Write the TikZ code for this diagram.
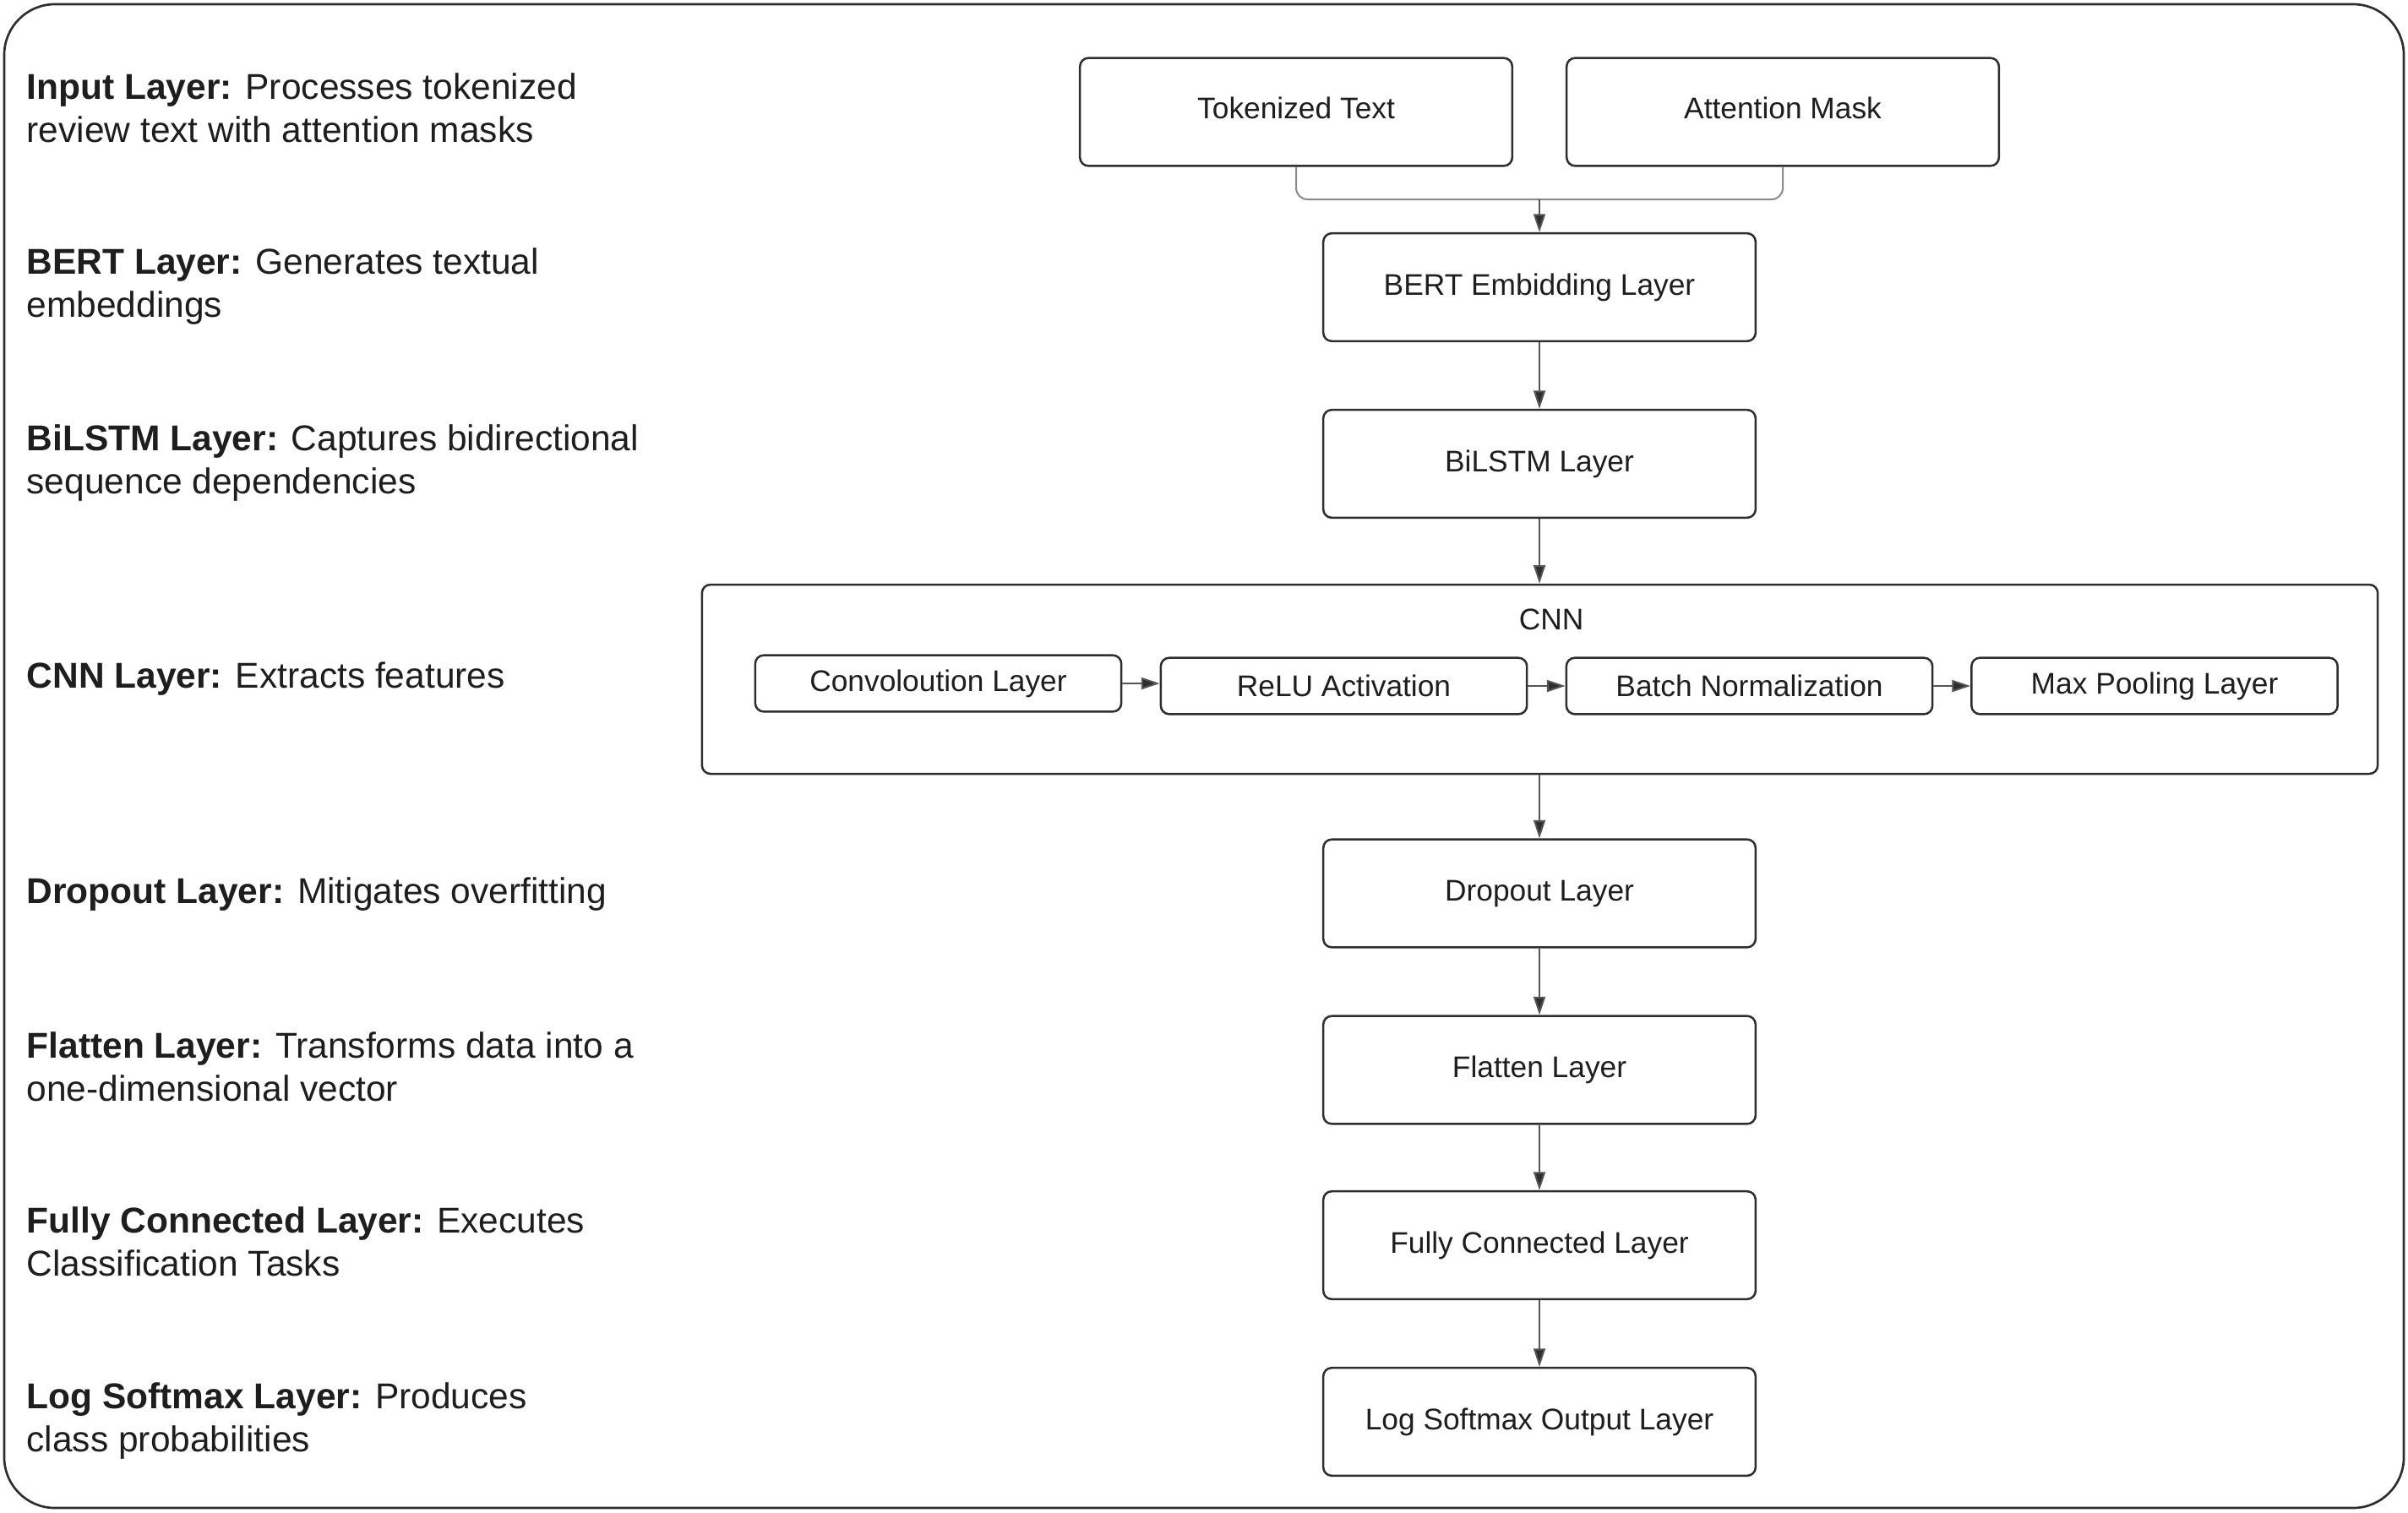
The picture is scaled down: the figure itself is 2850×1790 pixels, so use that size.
\documentclass[tikz,border=0pt]{standalone}
\usepackage{fontspec}
\setmainfont{Liberation Sans}
\usetikzlibrary{arrows.meta,positioning}
\definecolor{txt}{HTML}{1E1E1E}
\definecolor{ln}{HTML}{2E2E2E}
\definecolor{cn}{HTML}{555555}
\definecolor{cnl}{HTML}{8A8A8A}
\begin{document}
\begin{tikzpicture}[x=0.3pt,y=-0.3pt,
 box/.style={draw=ln, line width=0.75pt, rounded corners=3pt, minimum width=153.5pt, minimum height=38.3pt, inner sep=0pt, font=\fontsize{10.6}{12.7}\selectfont, text=txt},
 sbox/.style={box, minimum width=130pt, minimum height=20pt},
 desc/.style={anchor=west, align=left, font=\fontsize{12.75}{15.3}\selectfont, text=txt, inner sep=0pt},
 arr/.style={draw=cn, line width=0.6pt, -{Triangle[length=6.5pt,width=4.2pt,fill=ln]}},
]
\useasboundingbox (0,0) rectangle (2850,1790);
\draw[ln, line width=0.8pt, rounded corners=18pt] (5,5) rectangle (2845,1785);

% descriptions
\node[desc] (d1) at (31,127.5) {\textbf{Input Layer:} Processes tokenized\\review text with attention masks};
\node[desc] (d2) at (31,339.5) {\textbf{BERT Layer:} Generates textual\\embeddings};
\node[desc] (d3) at (31,547.5) {\textbf{BiLSTM Layer:} Captures bidirectional\\sequence dependencies};
\node[desc] (d4) at (31,804) {\textbf{CNN Layer:} Extracts features};
\node[desc] (d5) at (31,1058) {\textbf{Dropout Layer:} Mitigates overfitting};
\node[desc] (d6) at (31,1262.5) {\textbf{Flatten Layer:} Transforms data into a\\one-dimensional vector};
\node[desc] (d7) at (31,1469.5) {\textbf{Fully Connected Layer:} Executes\\Classification Tasks};
\node[desc] (d8) at (31,1681.5) {\textbf{Log Softmax Layer:} Produces\\class probabilities};

% main flow
\node[box] (tok) at (1534,132.5) {\raisebox{3pt}{Tokenized Text}};
\node[box] (att) at (2110,132.5) {\raisebox{3pt}{Attention Mask}};
\node[box] (bert) at (1822,340) {BERT Embidding Layer};
\node[box] (lstm) at (1822,549) {BiLSTM Layer};
\node[draw=ln, line width=0.75pt, rounded corners=3pt, minimum width=595pt, minimum height=67.2pt, inner sep=0pt] (cnn) at (1822.5,804) {};
\node[text=txt, font=\fontsize{10.6}{12.7}\selectfont, inner sep=0pt] (cnnl) at (1836,733) {CNN};
\node[sbox] (conv) at (1110.5,809) {Convoloution Layer};
\node[sbox] (relu) at (1590.5,812) {ReLU Activation};
\node[sbox] (bn) at (2070.5,812) {Batch Normalization};
\node[sbox] (mp) at (2550,812) {Max Pooling Layer};
\node[box] (drop) at (1822,1057.5) {Dropout Layer};
\node[box] (flat) at (1822,1266.5) {Flatten Layer};
\node[box] (fc) at (1822,1474) {Fully Connected Layer};
\node[box] (out) at (1822,1683) {Log Softmax Output Layer};

% connectors
\coordinate (m) at (1822,236);
\draw[cnl, line width=0.6pt, rounded corners=4pt] (tok.south) |- (m);
\draw[cnl, line width=0.6pt, rounded corners=4pt] (att.south) |- (m);
\draw[arr] (m) -- (bert.north);
\draw[arr] (bert) -- (lstm);
\draw[arr] (lstm) -- (cnn.north -| lstm);
\draw[arr] (cnn.south -| drop) -- (drop);
\draw[arr] (drop) -- (flat);
\draw[arr] (flat) -- (fc);
\draw[arr] (fc) -- (out);
\draw[arr] (conv.east) -- (conv.east -| relu.west);
\draw[arr] (relu.east) -- (bn.west);
\draw[arr] (bn.east) -- (mp.west);
\end{tikzpicture}
\end{document}
